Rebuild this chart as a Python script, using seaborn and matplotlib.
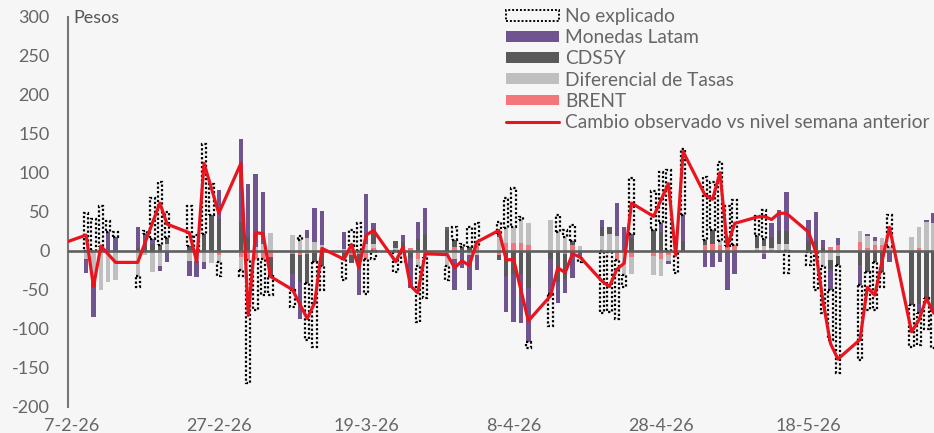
import numpy as np
import pandas as pd
import matplotlib
matplotlib.use('Agg')
import matplotlib.pyplot as plt
import matplotlib.dates as mdates
from matplotlib.patches import Patch
from matplotlib.lines import Line2D
import seaborn as sns

# business days with a decomposition bar (Feb 9 - Jun 4, 2026)
bar_dates = pd.bdate_range('2026-02-09', '2026-06-04')

brent = [0, 0, 0, 0, 0, 0, -1, 0, -2, -1, 0, 0, 0, 0, -5,
         -8, -12, -10, -10, -8, -4, -5, -4, -3, -2, -3, -5, -4, -10, 3,
         0, 0, 3, -10, -8, 0, 5, 0, 0, 6, -6, 10, 10, 10, 7,
         0, 0, -4, 7, 0, 0, -2, -12, 0, -8, -7, -10, -5, -2, -2,
         7, 9, 7, 6, 7, -2, -4, -2, -3, 0, -2, 0, 0, 5, 7,
         11, 4, 7, 7, 0, 0, 3, -2, 0]
diferencial = [-10, -40, -50, -40, -38, -33, -4, -27, -18, 8, -13, -13, -15, -16, -10,
               -17, 0, 5, 8, 23, 20, 14, 16, 11, 7, 2, 6, 0, 9, 6,
               3, 3, 0, -10, 0, -20, -10, -2, -5, -5, 18, 19, 21, 30, 28,
               39, 24, 18, 0, 6, 19, 21, 19, -31, -22, -24, -23, -8, 0, 0,
               0, 0, 5, 0, 0, 4, 6, 4, 9, 8, 0, 0, -20, -12, -7,
               14, 15, 6, 9, 5, 17, 27, 37, 36]
cds = [-2, -7, 5, 0, 0, 4, 7, 9, 7, 8, 6, 0, 22, 46, 41,
       37, 18, 0, 0, -25, -26, -35, -38, -12, -18, -7, -11, -10, 0, 13,
       9, 8, -9, 15, 22, 27, 9, 5, 5, 0, -6, -33, -30, -30, -48,
       -11, -40, -32, 5, -3, 11, 10, 0, 0, 16, 27, 24, 0, 0, 13,
       7, 18, 0, -3, 0, 12, 9, 13, 16, 17, 13, 12, 4, -12, -11,
       -18, -27, -14, -27, -3, -70, -68, -59, -76]
monedas = [-16, -38, 0, 24, 18, 27, 15, 6, -6, -13, -20, -21, -9, 0, 37,
           106, 68, 93, 67, 0, -20, -47, 11, 44, 44, 22, 0, -43, 64, 13,
           0, 9, -39, 22, 33, 3, -41, -20, -45, -20, 3, -46, -61, -63, -69,
           -44, -27, -18, -35, -5, 9, 0, 42, 30, 5, 0, 11, -4, 0, 33,
           -21, -21, -15, -47, -30, 3, -6, 19, 27, 50, 27, 38, 10, -26, 9,
           -26, 2, 5, 0, -11, 0, -12, 3, 12]
no_explicado = [48, 41, 52, 14, 6, -14, 3, 53, 81, 33, 51, 20, 115, 40, -18,
                -7, -158, -66, -47, -24, -22, 5, -72, -108, -30, -28, 21, 36, -45, -10,
                -27, -15, 0, -71, -53, -18, 16, 4, 26, 29, 16, 38, 49, 3, -8,
                -42, 22, 8, 21, -7, -80, -76, -75, -15, 72, 49, 66, 104, -26, 84,
                81, 61, 102, 51, 58, 25, 37, 0, 0, -28, -16, -50, -60, -65, -139,
                -96, -49, -62, -19, 41, -53, -41, -39, -49]

# observed change vs previous week level
line_dates = ['2026-02-06', '2026-02-09', '2026-02-10', '2026-02-11', '2026-02-13',
              '2026-02-16', '2026-02-19', '2026-02-20', '2026-02-23', '2026-02-24',
              '2026-02-25', '2026-02-27', '2026-03-02', '2026-03-03', '2026-03-04',
              '2026-03-05', '2026-03-06', '2026-03-09', '2026-03-11', '2026-03-12',
              '2026-03-13', '2026-03-16', '2026-03-17', '2026-03-18', '2026-03-19',
              '2026-03-20', '2026-03-23', '2026-03-24', '2026-03-25', '2026-03-26',
              '2026-03-27', '2026-03-30', '2026-03-31', '2026-04-01', '2026-04-02',
              '2026-04-03', '2026-04-06', '2026-04-07', '2026-04-08', '2026-04-10',
              '2026-04-13', '2026-04-14', '2026-04-15', '2026-04-16', '2026-04-17',
              '2026-04-20', '2026-04-21', '2026-04-22', '2026-04-23', '2026-04-24',
              '2026-04-27', '2026-04-29', '2026-04-30', '2026-05-01', '2026-05-04',
              '2026-05-05', '2026-05-06', '2026-05-07', '2026-05-08', '2026-05-11',
              '2026-05-12', '2026-05-13', '2026-05-14', '2026-05-15', '2026-05-18',
              '2026-05-19', '2026-05-20', '2026-05-21', '2026-05-22', '2026-05-25',
              '2026-05-26', '2026-05-27', '2026-05-29', '2026-06-01', '2026-06-02',
              '2026-06-03', '2026-06-04']
line_values = [10, 20, -46, 6, -15,
               -15, 61, 34, 23, -14,
               112, 48, 112, -83, 23,
               22, -33, -50, -87, -67,
               3, -11, 8, -22, 20,
               26, -14, 5, -45, -54,
               -4, -5, -22, -13, -19,
               11, 26, -12, -11, -90,
               -58, -22, -28, -4, -8,
               -39, -46, -24, -16, 61,
               44, 86, -6, 127, 71,
               66, 100, 6, 35, 43,
               44, 40, 48, 48, 24,
               -1, -66, -119, -139, -114,
               -47, -57, 30, -104, -89,
               -61, -80]

tick_dates = ['2026-02-07', '2026-02-27', '2026-03-19', '2026-04-08', '2026-04-28', '2026-05-18']
y_ticks = [-200, -150, -100, -50, 0, 50, 100, 150, 200, 250, 300]

sns.set_style('white')
plt.rcParams['font.family'] = ['Lato', 'DejaVu Sans']
bg = '#F6F6F6'
txt = '#666666'

fig = plt.figure(figsize=(9.34, 4.33), dpi=100, facecolor=bg)
ax = fig.add_axes([67.7 / 934, 1 - 406.7 / 433, 1 - 67.7 / 934, 390 / 433])
ax.set_facecolor(bg)

x = mdates.date2num(bar_dates)
stack = [
    ('BRENT', brent, '#F4767B'),
    ('Diferencial de Tasas', diferencial, '#BFBFBF'),
    ('CDS5Y', cds, '#595959'),
    ('Monedas Latam', monedas, '#6F548F'),
    ('No explicado', no_explicado, None),
]
pos_base = np.zeros(len(x))
neg_base = np.zeros(len(x))
for name, vals, color in stack:
    v = np.array(vals, dtype=float)
    base = np.where(v >= 0, pos_base, neg_base)
    keep = v != 0
    if color is None:
        ax.bar(x[keep], v[keep], width=0.6, bottom=base[keep], facecolor='none',
               edgecolor='black', linestyle=(0, (1, 1)), linewidth=1.6, zorder=2)
    else:
        ax.bar(x[keep], v[keep], width=0.6, bottom=base[keep], color=color,
               linewidth=0, zorder=2)
    pos_base += np.clip(v, 0, None)
    neg_base += np.clip(v, None, 0)

ax.axhline(0, color='#5F5F5F', linewidth=1.9, zorder=3)

lx = mdates.date2num(pd.to_datetime(line_dates))
sns.lineplot(x=lx, y=line_values, color='#E8151F', linewidth=2.3, ax=ax,
             estimator=None, sort=False, legend=False, zorder=4)

ax.set_xlim(mdates.date2num(pd.Timestamp('2026-02-06 12:00')),
            mdates.date2num(pd.Timestamp('2026-06-04 01:00')))
ax.set_ylim(-200, 300)
ax.set_xticks(mdates.date2num(pd.to_datetime(tick_dates)))
ax.set_xticklabels([f'{d.day}-{d.month}-{d.year % 100}' for d in pd.to_datetime(tick_dates)])
ax.set_yticks(y_ticks)
ax.set_yticklabels([str(t) for t in y_ticks])
ax.tick_params(axis='both', length=0, labelsize=13, labelcolor=txt)
ax.tick_params(axis='y', pad=13)
ax.tick_params(axis='x', pad=8)
ax.set_xlabel('')
ax.set_ylabel('')

for side in ['top', 'right', 'bottom']:
    ax.spines[side].set_visible(False)
ax.spines['left'].set_color('#777777')
ax.spines['left'].set_linewidth(1.5)

fig.text(73 / 934, 1 - 10 / 433, 'Pesos', ha='left', va='top', fontsize=13, color='#555555')

handles = [
    Patch(facecolor='none', edgecolor='black', linestyle=(0, (1, 1)), linewidth=1.4),
    Patch(facecolor='#6F548F', edgecolor='none'),
    Patch(facecolor='#595959', edgecolor='none'),
    Patch(facecolor='#BFBFBF', edgecolor='none'),
    Patch(facecolor='#F4767B', edgecolor='none'),
    Line2D([0], [0], color='#E8151F', linewidth=2.2),
]
labels = ['No explicado', 'Monedas Latam', 'CDS5Y', 'Diferencial de Tasas', 'BRENT',
          'Cambio observado vs nivel semana anterior']
leg = fig.legend(handles, labels, loc='upper left', bbox_to_anchor=(506 / 934, 1 - 8 / 433),
                 frameon=False, fontsize=13.8, handlelength=2.75, handleheight=0.48,
                 handletextpad=0.33, labelspacing=0.22, borderpad=0, borderaxespad=0)
for t in leg.get_texts():
    t.set_color(txt)

fig.savefig('out.png', dpi=100, facecolor=bg)
